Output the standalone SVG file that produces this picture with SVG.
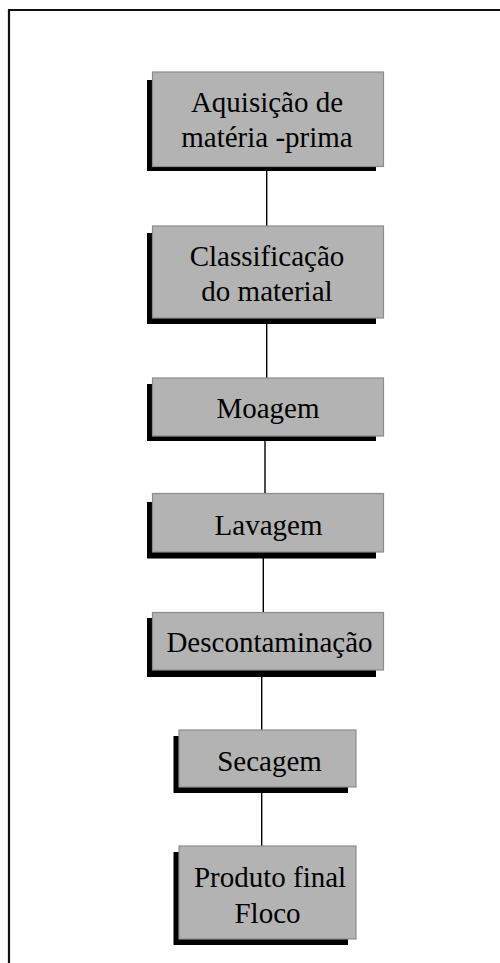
<svg xmlns="http://www.w3.org/2000/svg" width="500" height="963" viewBox="0 0 500 963">
<style>
.sh{fill:#000}
.bx{fill:#b3b3b3;stroke:#8c8c8c;stroke-width:1.2}
.t{font-family:"Liberation Serif","Times New Roman",serif;font-size:29px;fill:#000;text-anchor:middle}
.c{stroke:#000;stroke-width:1.4;fill:none}
.fr{stroke:#111;stroke-width:2.2;fill:none}
</style>
<rect width="500" height="963" fill="#fff"/>
<path class="fr" d="M9,963 V10 H500"/>
<g id="connectors">
<line class="c" x1="266.7" y1="171" x2="266.7" y2="229"/>
<line class="c" x1="266.7" y1="318" x2="266.7" y2="378"/>
<line class="c" x1="265" y1="440" x2="265" y2="497"/>
<line class="c" x1="263.3" y1="556" x2="263.3" y2="613"/>
<line class="c" x1="261.7" y1="676" x2="261.7" y2="732"/>
<line class="c" x1="261.7" y1="792" x2="261.7" y2="847"/>
</g>
<g id="n1">
<rect class="sh" x="147" y="80" width="229" height="91"/>
<rect class="bx" x="152.5" y="72" width="231" height="94.5"/>
<text class="t" x="267" y="111.7">Aquisição de</text>
<text class="t" x="267" y="146.7">matéria -prima</text>
</g>
<g id="n2">
<rect class="sh" x="147" y="233" width="229" height="91"/>
<rect class="bx" x="152.5" y="226" width="231" height="92"/>
<text class="t" x="267" y="265.5">Classificação</text>
<text class="t" x="267" y="300.5">do material</text>
</g>
<g id="n3">
<rect class="sh" x="147" y="384" width="229" height="57"/>
<rect class="bx" x="152.5" y="378" width="231" height="58"/>
<text class="t" x="268" y="418.3">Moagem</text>
</g>
<g id="n4">
<rect class="sh" x="147" y="502" width="229" height="56.5"/>
<rect class="bx" x="152.5" y="493.5" width="231" height="58.5"/>
<text class="t" x="268.5" y="535">Lavagem</text>
</g>
<g id="n5">
<rect class="sh" x="147" y="618" width="229" height="59"/>
<rect class="bx" x="152.5" y="612.5" width="231" height="57.5"/>
<text class="t" x="269.5" y="652">Descontaminação</text>
</g>
<g id="n6">
<rect class="sh" x="173.5" y="736" width="174.5" height="57"/>
<rect class="bx" x="179" y="730" width="177" height="57"/>
<text class="t" x="269.5" y="770.7">Secagem</text>
</g>
<g id="n7">
<rect class="sh" x="173.5" y="852" width="174.5" height="93"/>
<rect class="bx" x="179" y="846" width="177" height="93"/>
<text class="t" x="270" y="886.7">Produto final</text>
<text class="t" x="267.5" y="922.7">Floco</text>
</g>
</svg>
